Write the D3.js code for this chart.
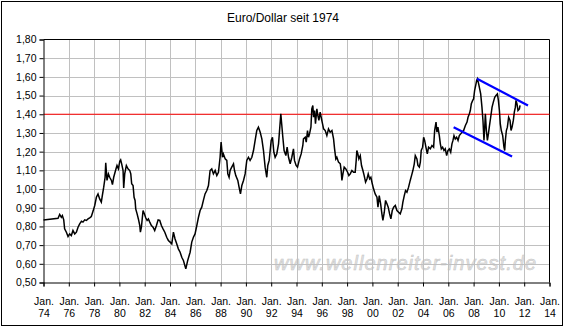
<!DOCTYPE html>
<html>
<head>
<meta charset="utf-8">
<script src="https://cdn.jsdelivr.net/npm/d3@7"></script>
<style>
  html, body { margin: 0; padding: 0; background: #fff; }
  svg { display: block; }
  text { font-family: "Liberation Sans", Arial, sans-serif; }
</style>
</head>
<body>
<svg id="chart" width="564" height="327"></svg>
<script>
// EUR/USD exchange rate (synthetic before 1999), decimal year -> rate
const years = [
  1974.00, 1975.15, 1975.28, 1975.41, 1975.49, 1975.60, 1975.67, 1975.81, 1975.94, 1976.07,
  1976.20, 1976.33, 1976.47, 1976.60, 1976.73, 1976.86, 1977.00, 1977.12, 1977.26, 1977.39,
  1977.52, 1977.65, 1977.78, 1977.92, 1978.05, 1978.18, 1978.31, 1978.44, 1978.57, 1978.65,
  1978.76, 1978.87, 1978.92, 1979.02, 1979.13, 1979.23, 1979.37, 1979.45, 1979.55, 1979.71,
  1979.81, 1979.92, 1980.03, 1980.10, 1980.18, 1980.29, 1980.34, 1980.42, 1980.55, 1980.68,
  1980.82, 1980.90, 1980.97, 1981.08, 1981.16, 1981.24, 1981.29, 1981.40, 1981.50, 1981.61,
  1981.66, 1981.74, 1981.87, 1981.98, 1982.08, 1982.19, 1982.29, 1982.40, 1982.53, 1982.66,
  1982.79, 1982.93, 1983.06, 1983.19, 1983.32, 1983.45, 1983.59,
  1983.74, 1983.87, 1984.01, 1984.14, 1984.27, 1984.40, 1984.53, 1984.66, 1984.80, 1984.93,
  1985.06, 1985.25, 1985.40, 1985.59, 1985.72, 1985.85, 1985.98, 1986.12, 1986.25, 1986.38,
  1986.51, 1986.64, 1986.77, 1986.91, 1987.04, 1987.17, 1987.30, 1987.43, 1987.57, 1987.70,
  1987.83, 1987.96, 1988.04, 1988.15, 1988.22, 1988.36, 1988.49, 1988.57, 1988.67, 1988.75,
  1988.88, 1989.02, 1989.10, 1989.20, 1989.36, 1989.46, 1989.57, 1989.68, 1989.81, 1989.94,
  1990.07, 1990.20, 1990.33, 1990.47, 1990.60, 1990.73, 1990.86, 1990.99, 1991.13, 1991.26,
  1991.39, 1991.52, 1991.65, 1991.73, 1991.84, 1992.00, 1992.10, 1992.21, 1992.31, 1992.44,
  1992.58, 1992.66, 1992.76, 1992.84, 1992.92, 1993.02, 1993.16, 1993.26, 1993.37,
  1993.50, 1993.63, 1993.76, 1993.84, 1993.97, 1994.08, 1994.24, 1994.37, 1994.50, 1994.55,
  1994.69, 1994.77, 1994.87, 1994.95, 1995.03, 1995.14, 1995.21, 1995.29, 1995.35, 1995.43,
  1995.50, 1995.61, 1995.69, 1995.77, 1995.87, 1995.95, 1996.03, 1996.14, 1996.27, 1996.40,
  1996.53, 1996.66, 1996.80, 1996.93, 1997.01, 1997.11, 1997.19, 1997.32, 1997.46, 1997.53,
  1997.59, 1997.67, 1997.77, 1997.90, 1998.04, 1998.14, 1998.25, 1998.38, 1998.51, 1998.64,
  1998.72, 1998.77, 1998.85, 1998.93, 1999.04, 1999.14, 1999.25, 1999.35, 1999.46, 1999.57,
  1999.67, 1999.78, 1999.88, 1999.99, 2000.09, 2000.22, 2000.36, 2000.44, 2000.54, 2000.65,
  2000.75, 2000.83, 2000.94, 2001.04, 2001.15, 2001.25, 2001.36, 2001.46, 2001.57, 2001.68,
  2001.81, 2001.94, 2002.07, 2002.20, 2002.33, 2002.41, 2002.52, 2002.62, 2002.73, 2002.86,
  2002.99, 2003.13, 2003.20, 2003.31,
  2003.39, 2003.52, 2003.60, 2003.71, 2003.79, 2003.86, 2003.97, 2004.05, 2004.13, 2004.23,
  2004.34, 2004.44, 2004.58, 2004.71, 2004.84, 2004.92, 2005.03, 2005.10, 2005.18, 2005.29,
  2005.37, 2005.45, 2005.55, 2005.66, 2005.76, 2005.87, 2005.97, 2006.08, 2006.19, 2006.29,
  2006.37, 2006.45, 2006.55, 2006.66, 2006.77, 2006.87, 2006.98, 2007.08, 2007.21, 2007.35,
  2007.48, 2007.56, 2007.66, 2007.74, 2007.82, 2007.93, 2008.00, 2008.08, 2008.19, 2008.24,
  2008.30, 2008.40, 2008.48, 2008.56, 2008.66, 2008.74, 2008.82, 2008.88, 2008.93, 2009.01,
  2009.09, 2009.17, 2009.24, 2009.35, 2009.46, 2009.56, 2009.67, 2009.77, 2009.88, 2009.96,
  2010.04, 2010.11, 2010.19, 2010.30, 2010.40, 2010.46, 2010.51, 2010.59, 2010.67, 2010.77,
  2010.88, 2010.96, 2011.04, 2011.14, 2011.22, 2011.30, 2011.35, 2011.43, 2011.51, 2011.62,
  2011.67
];
const rates = [
  0.835, 0.844, 0.864, 0.849, 0.858, 0.835, 0.787, 0.769, 0.746, 0.760,
  0.751, 0.778, 0.760, 0.769, 0.796, 0.814, 0.828, 0.823, 0.835, 0.832,
  0.840, 0.846, 0.853, 0.882, 0.912, 0.956, 0.974, 0.947, 0.930, 0.965,
  1.010, 1.063, 1.140, 1.046, 1.081, 1.063, 1.046, 1.024, 1.063, 1.103,
  1.126, 1.108, 1.149, 1.156, 1.135, 1.099, 1.006, 1.081, 1.126, 1.108,
  1.099, 1.081, 1.028, 1.019, 0.956, 0.939, 0.894, 0.867, 0.840, 0.805,
  0.769, 0.796, 0.885, 0.867, 0.846, 0.832, 0.840, 0.823, 0.805, 0.796,
  0.778, 0.805, 0.835, 0.832, 0.805, 0.787, 0.769,
  0.742, 0.725, 0.716, 0.707, 0.769, 0.733, 0.707, 0.680, 0.662, 0.635,
  0.618, 0.573, 0.618, 0.662, 0.716, 0.742, 0.760, 0.805, 0.849, 0.885,
  0.903, 0.939, 0.974, 0.992, 1.019, 1.099, 1.108, 1.081, 1.099, 1.072,
  1.090, 1.170, 1.251, 1.170, 1.188, 1.162, 1.153, 1.081, 1.063, 1.099,
  1.117, 1.135, 1.099, 1.072, 1.046, 1.010, 0.974, 1.019, 1.046, 1.081,
  1.153, 1.170, 1.153, 1.170, 1.206, 1.260, 1.313, 1.331, 1.304, 1.268,
  1.206, 1.117, 1.063, 1.126, 1.153, 1.260, 1.277, 1.197, 1.170, 1.188,
  1.242, 1.313, 1.402, 1.340, 1.277, 1.206, 1.179, 1.224, 1.170,
  1.135, 1.170, 1.215, 1.153, 1.126, 1.117, 1.161, 1.188, 1.233, 1.268,
  1.277, 1.251, 1.313, 1.277, 1.295, 1.331, 1.429, 1.447, 1.384, 1.420,
  1.349, 1.429, 1.393, 1.367, 1.411, 1.384, 1.358, 1.322, 1.313, 1.286,
  1.322, 1.304, 1.313, 1.268, 1.215, 1.161, 1.170, 1.144, 1.135, 1.099,
  1.046, 1.081, 1.117, 1.108, 1.090, 1.072, 1.081, 1.099, 1.090, 1.090,
  1.153, 1.206, 1.188, 1.161, 1.179, 1.126, 1.099, 1.072, 1.037, 1.054,
  1.081, 1.054, 1.063, 1.028, 1.001, 0.974, 0.956, 0.903, 0.965, 0.921,
  0.867, 0.832, 0.876, 0.939, 0.921, 0.903, 0.867, 0.841, 0.885, 0.903,
  0.912, 0.885, 0.876, 0.867, 0.894, 0.930, 0.965, 0.992, 0.983, 1.010,
  1.046, 1.081, 1.099, 1.135,
  1.179, 1.161, 1.126, 1.117, 1.144, 1.206, 1.224, 1.277, 1.260, 1.224,
  1.188, 1.224, 1.215, 1.233, 1.224, 1.313, 1.358, 1.304, 1.331, 1.286,
  1.242, 1.215, 1.224, 1.206, 1.215, 1.179, 1.206, 1.215, 1.197, 1.242,
  1.260, 1.286, 1.268, 1.277, 1.260, 1.286, 1.295, 1.304, 1.313, 1.340,
  1.358, 1.384, 1.402, 1.420, 1.456, 1.474, 1.482, 1.527, 1.563, 1.581,
  1.590, 1.563, 1.536, 1.509, 1.438, 1.367, 1.260, 1.331, 1.402, 1.313,
  1.260, 1.295, 1.331, 1.384, 1.438, 1.465, 1.491, 1.500, 1.509, 1.474,
  1.420, 1.349, 1.313, 1.286, 1.224, 1.206, 1.260, 1.313, 1.331, 1.384,
  1.367, 1.313, 1.331, 1.367, 1.411, 1.438, 1.474, 1.456, 1.420, 1.429,
  1.447
];

// Horizontal resistance level
const resistanceLevel = 1.40;

// Trend channel lines: [startYear, startRate, endYear, endRate]
const channelUpper = [2008.27, 1.590, 2012.30, 1.447];
const channelLower = [2006.42, 1.331, 2011.04, 1.174];

// Axis ticks
const xTickYears = d3.range(1974, 2015, 2);
const yTickValues = d3.range(0.5, 1.8001, 0.1).map(v => +v.toFixed(2));

const titleText = "Euro/Dollar seit 1974";
const watermarkText = "www.wellenreiter-invest.de";

const svg = d3.select("#chart");
const W = 564, H = 327;
const plot = { left: 43.5, right: 549.5, top: 39.5, bottom: 282.5 };

const x = d3.scaleLinear().domain([1974, 2014]).range([plot.left, plot.right]);
const y = d3.scaleLinear().domain([0.5, 1.8]).range([plot.bottom, plot.top]);

// Outer frame
svg.append("rect")
  .attr("x", 1.5).attr("y", 1.5)
  .attr("width", W - 3).attr("height", H - 3)
  .attr("fill", "#fff").attr("stroke", "#000").attr("stroke-width", 1);

// Title
svg.append("text")
  .attr("x", 283).attr("y", 22)
  .attr("text-anchor", "middle")
  .attr("font-size", 12)
  .attr("fill", "#000")
  .text(titleText);

// Watermark (sits behind the grid)
svg.append("text")
  .attr("x", 274).attr("y", 270)
  .attr("font-size", 20)
  .attr("font-style", "italic")
  .attr("fill", "#e2e2e2")
  .attr("stroke", "#c4c4c4")
  .attr("stroke-width", 0.5)
  .attr("textLength", 262)
  .text(watermarkText);

// Grid lines
const grid = svg.append("g").attr("stroke", "#c0c0c0").attr("stroke-width", 1);
grid.selectAll("line.h")
  .data(yTickValues.filter(v => v > 0.5 && v < 1.8))
  .join("line")
  .attr("x1", plot.left).attr("x2", plot.right)
  .attr("y1", d => Math.round(y(d)) + 0.5).attr("y2", d => Math.round(y(d)) + 0.5);
grid.selectAll("line.v")
  .data(xTickYears.filter(d => d > 1974 && d < 2014))
  .join("line")
  .attr("x1", d => Math.round(x(d)) + 0.5).attr("x2", d => Math.round(x(d)) + 0.5)
  .attr("y1", plot.top).attr("y2", plot.bottom);

// Plot border (top and right)
svg.append("path")
  .attr("d", `M${plot.left},${plot.top}H${plot.right}V${plot.bottom}`)
  .attr("fill", "none").attr("stroke", "#000").attr("stroke-width", 1);

// Resistance line
svg.append("line")
  .attr("x1", plot.left).attr("x2", plot.right)
  .attr("y1", y(resistanceLevel)).attr("y2", y(resistanceLevel))
  .attr("stroke", "#ff0000").attr("stroke-width", 1.2);

// Price line
const series = years.map((yr, i) => ({ yr, v: rates[i] }));
svg.append("path")
  .datum(series)
  .attr("fill", "none")
  .attr("stroke", "#000")
  .attr("stroke-width", 1.5)
  .attr("stroke-linejoin", "miter")
  .attr("d", d3.line().x(d => x(d.yr)).y(d => y(d.v)));

// Trend channel
[channelUpper, channelLower].forEach(c => {
  svg.append("line")
    .attr("x1", x(c[0])).attr("y1", y(c[1]))
    .attr("x2", x(c[2])).attr("y2", y(c[3]))
    .attr("stroke", "#0000ff").attr("stroke-width", 2.2);
});

// Y axis
const fmt = d3.format(".2f");
const yAxis = svg.append("g")
  .attr("transform", `translate(${plot.left},0)`)
  .call(d3.axisLeft(y).tickValues(yTickValues).tickSize(4).tickPadding(3)
    .tickFormat(d => fmt(d).replace(".", ",")));
yAxis.select(".domain").attr("stroke", "#000");
yAxis.selectAll("line").attr("stroke", "#000");
yAxis.selectAll("text")
  .attr("font-size", 10.5)
  .attr("font-family", "'Liberation Sans', Arial, sans-serif")
  .attr("fill", "#000");

// X axis with two-line labels
const xAxis = svg.append("g")
  .attr("transform", `translate(0,${plot.bottom})`)
  .call(d3.axisBottom(x).tickValues(xTickYears).tickSize(4).tickFormat(""));
xAxis.select(".domain").attr("stroke", "#000");
xAxis.selectAll("line").attr("stroke", "#000");
xAxis.selectAll(".tick").each(function (d) {
  const t = d3.select(this).select("text")
    .attr("y", 0).attr("dy", null)
    .attr("font-size", 10.5)
    .attr("font-family", "'Liberation Sans', Arial, sans-serif")
    .attr("fill", "#000");
  t.append("tspan").attr("x", 0).attr("y", 22).text("Jan.");
  t.append("tspan").attr("x", 0).attr("y", 34).text(String(d % 100).padStart(2, "0"));
});
</script>
</body>
</html>
